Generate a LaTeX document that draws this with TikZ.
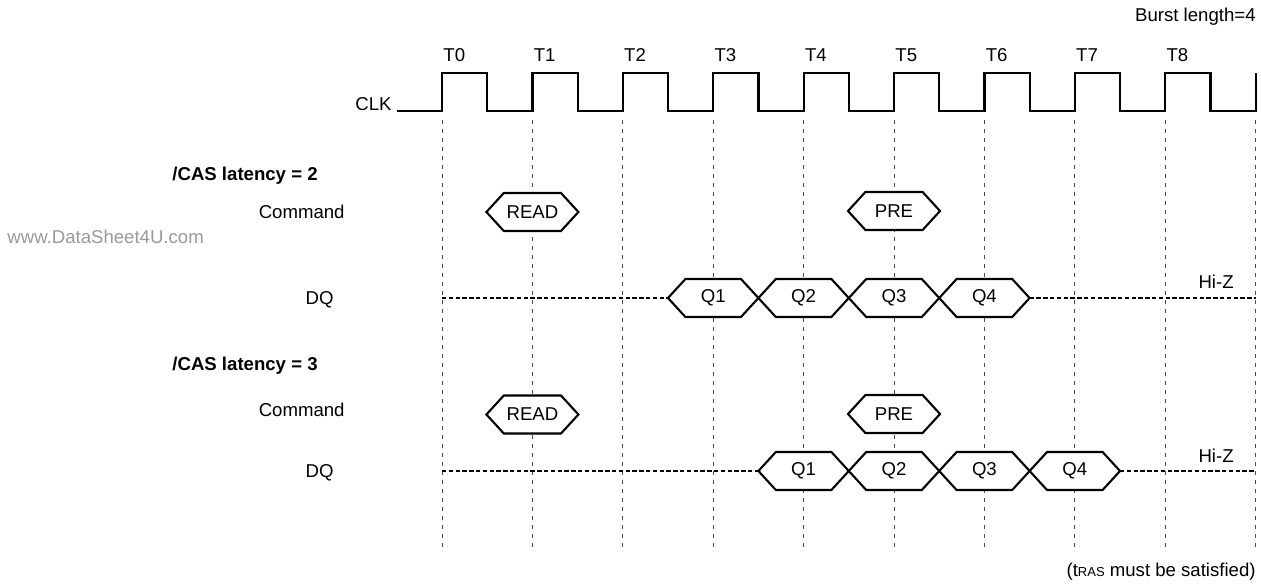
\documentclass[tikz,border=0pt]{standalone}
\usepackage{fontspec}
\setmainfont{Liberation Sans}
\usetikzlibrary{shapes.symbols, positioning}

\tikzset{
  lbl/.style={font=\fontsize{9.3}{11}\selectfont, inner sep=0pt},
  grid/.style={black!70, line width=0.45pt, dash pattern=on 2pt off 2.5pt},
  clk/.style={line width=1.1pt},
  busbox/.style={signal, signal to=east and west, signal pointer angle=95, draw, fill=white,
    line width=1.05pt, minimum width=45.2pt, minimum height=19pt, inner sep=0pt, outer sep=0pt,
    font=\fontsize{9.3}{11}\selectfont},
  cmdbox/.style={busbox, minimum width=46pt},
  hiz/.style={line width=0.9pt, dash pattern=on 2.2pt off 1.2pt},
}

\begin{document}
\begin{tikzpicture}[x=0.5pt, y=-0.5pt]
  \useasboundingbox (0,0) rectangle (1261,587);
  % rising edges of the clock
  \foreach \i in {0,...,9}
    \coordinate (t\i) at (442+90.4*\i, 111);
  \foreach \i in {0,...,9}
    \draw[grid] (442+90.4*\i, 120) -- (442+90.4*\i, 547);
  % clock
  \draw[clk] (397,111) -- (t0)
    \foreach \i in {0,...,8} { -- ++(0,-38) -- ++(45.2,0) -- ++(0,38) -- ++(45.2,0) }
    -- ++(0,-38);
  \node[lbl, anchor=base east] (clk) at (392,111) {CLK};
  \foreach \i in {0,...,8}
    \node[lbl, anchor=west] (lt\i) at (443+90.4*\i, 55) {T\i};
  \node[lbl, anchor=base east] (burst) at (1256,22) {Burst length=4};

  % /CAS latency = 2
  \node[lbl, anchor=base west, font=\fontsize{9.3}{11}\selectfont\bfseries] (cl2) at (172,181) {/CAS latency = 2};
  \node[lbl, anchor=base east] (cmd2) at (345,219) {Command};
  \node[lbl, anchor=base west, text=black!40] (wm) at (7,244) {www.DataSheet4U.com};
  \node[lbl, anchor=base east] (dq2) at (334,305) {DQ};
  \node[cmdbox] (rd2) at (532.4,212) {READ};
  \node[cmdbox] (pre2) at (894,211) {PRE};
  \coordinate (dq2s) at (442,298);
  \coordinate (dq2e) at (1255.6,298);
  \node[busbox] (q21) at (713.2,298) {Q1};
  \node[busbox] (q22) at (803.6,298) {Q2};
  \node[busbox] (q23) at (894,298) {Q3};
  \node[busbox] (q24) at (984.4,298) {Q4};
  \draw[hiz] (dq2s) -- (q21.west) (q24.east) -- (dq2e);
  \node[lbl, anchor=base east] (hiz2) at (1234,288) {Hi-Z};

  % /CAS latency = 3
  \node[lbl, anchor=base west, font=\fontsize{9.3}{11}\selectfont\bfseries] (cl3) at (172,370) {/CAS latency = 3};
  \node[lbl, anchor=base east] (cmd3) at (345,416) {Command};
  \node[lbl, anchor=base east] (dq3) at (334,477) {DQ};
  \node[cmdbox] (rd3) at (532.4,414.5) {READ};
  \node[cmdbox] (pre3) at (894,414) {PRE};
  \coordinate (dq3s) at (442,471);
  \coordinate (dq3e) at (1255.6,471);
  \node[busbox] (q31) at (803.6,471) {Q1};
  \node[busbox] (q32) at (894,471) {Q2};
  \node[busbox] (q33) at (984.4,471) {Q3};
  \node[busbox] (q34) at (1074.8,471) {Q4};
  \draw[hiz] (dq3s) -- (q31.west) (q34.east) -- (dq3e);
  \node[lbl, anchor=base east] (hiz3) at (1234,462) {Hi-Z};

  \node[lbl, anchor=base east] (note) at (1256,576) {(t{\fontsize{6.5}{8}\selectfont RAS} must be satisfied)};
\end{tikzpicture}
\end{document}
